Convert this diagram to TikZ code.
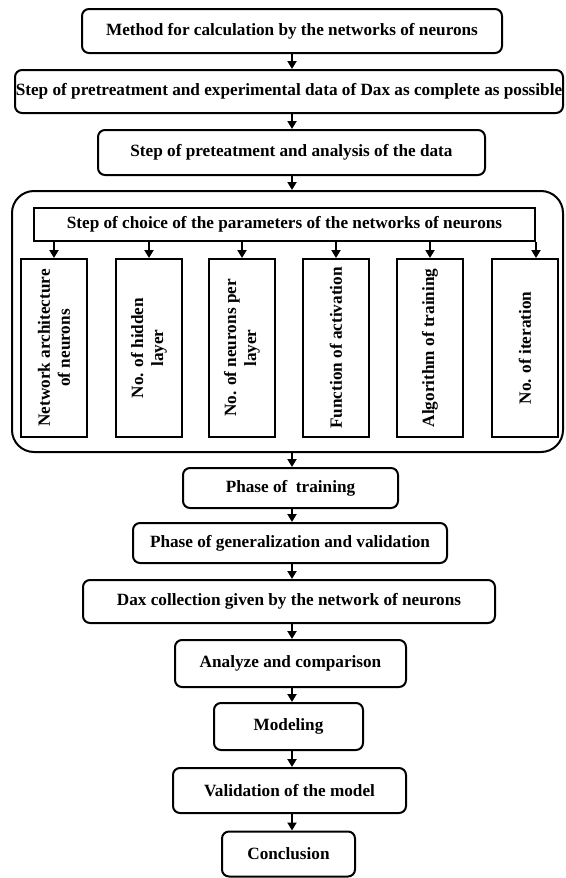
\documentclass[tikz,border=0pt]{standalone}
\usepackage{fontspec}
\setmainfont{Liberation Serif}
\usetikzlibrary{arrows.meta,calc}
\begin{document}
\begin{tikzpicture}[x=1pt,y=-1pt,
  every node/.style={inner sep=0pt,font=\fontsize{17.2}{20}\selectfont\bfseries},
  rbox/.style={draw,line width=2pt,rounded corners=7pt,align=center},
  sbox/.style={draw,line width=2pt,align=center},
  vbox/.style={draw,line width=2pt,minimum width=66pt,minimum height=178pt},
  vtext/.style={rotate=90,align=center},
  arr/.style={line width=2pt,-{Triangle[length=8pt,width=9pt]}}
]
\useasboundingbox (0,0) rectangle (565,878);
\node[rbox,minimum width=420pt,minimum height=44pt] (b1) at (292,31) {Method for calculation by the networks of neurons};
\node[rbox,minimum width=548pt,minimum height=43pt] (b2) at (289,91.5) {Step of pretreatment and experimental data of Dax as complete as possible};
\node[rbox,minimum width=387pt,minimum height=45pt] (b3) at (291.5,152.5) {Step of preteatment and analysis of the data};
\node[draw,line width=2pt,rounded corners=22pt,minimum width=551pt,minimum height=261pt] (big) at (287.5,321.5) {};
\node[sbox,minimum width=501pt,minimum height=33pt] (hdr) at (284.5,224.5) {Step of choice of the parameters of the networks of neurons};
\node[vbox] (s1) at (54,348) {};
\node[vbox] (s2) at (149,348) {};
\node[vbox] (s3) at (242,348) {};
\node[vbox] (s4) at (336,348) {};
\node[vbox] (s5) at (430,348) {};
\node[vbox] (s6) at (525,348) {};
\node[vtext] (t1) at (s1) {Network architecture\\of neurons};
\node[vtext] (t2) at (s2) {No. of hidden\\layer};
\node[vtext] (t3) at (s3) {No. of neurons per\\layer};
\node[vtext] (t4) at (s4) {Function of activation};
\node[vtext] (t5) at (s5) {Algorithm of training};
\node[vtext] (t6) at (s6) {No. of iteration};
\node[rbox,minimum width=215pt,minimum height=40pt] (tr) at (290.5,488) {Phase of\ \ training};
\node[rbox,minimum width=314pt,minimum height=40pt] (gen) at (290,543) {Phase of generalization and validation};
\node[rbox,minimum width=412pt,minimum height=43pt] (dax) at (289,601.5) {Dax collection given by the network of neurons};
\node[rbox,minimum width=231pt,minimum height=47pt] (an) at (290.5,663.5) {Analyze and comparison};
\node[rbox,minimum width=149pt,minimum height=47pt] (mo) at (288.5,726.5) {Modeling};
\node[rbox,minimum width=233pt,minimum height=45pt] (va) at (289.5,790.5) {Validation of the model};
\node[rbox,minimum width=133pt,minimum height=45pt] (co) at (288.5,854) {Conclusion};
\coordinate (col) at (292,0);
\draw[arr] (b1.south -| col) -- (b2.north -| col);
\draw[arr] (b2.south -| col) -- (b3.north -| col);
\draw[arr] (b3.south -| col) -- (big.north -| col);
\draw[arr] (big.south -| col) -- (tr.north -| col);
\draw[arr] (tr.south -| col) -- (gen.north -| col);
\draw[arr] (gen.south -| col) -- (dax.north -| col);
\draw[arr] (dax.south -| col) -- (an.north -| col);
\draw[arr] (an.south -| col) -- (mo.north -| col);
\draw[arr] (mo.south -| col) -- (va.north -| col);
\draw[arr] (va.south -| col) -- (co.north -| col);
\draw[arr] (hdr.south -| s1.north) -- (s1.north);
\draw[arr] (hdr.south -| s2.north) -- (s2.north);
\draw[arr] (hdr.south -| s3.north) -- (s3.north);
\draw[arr] (hdr.south -| s4.north) -- (s4.north);
\draw[arr] (hdr.south -| s5.north) -- (s5.north);
\draw[arr] (hdr.south east) -- (hdr.south east |- s6.north);
\end{tikzpicture}
\end{document}
